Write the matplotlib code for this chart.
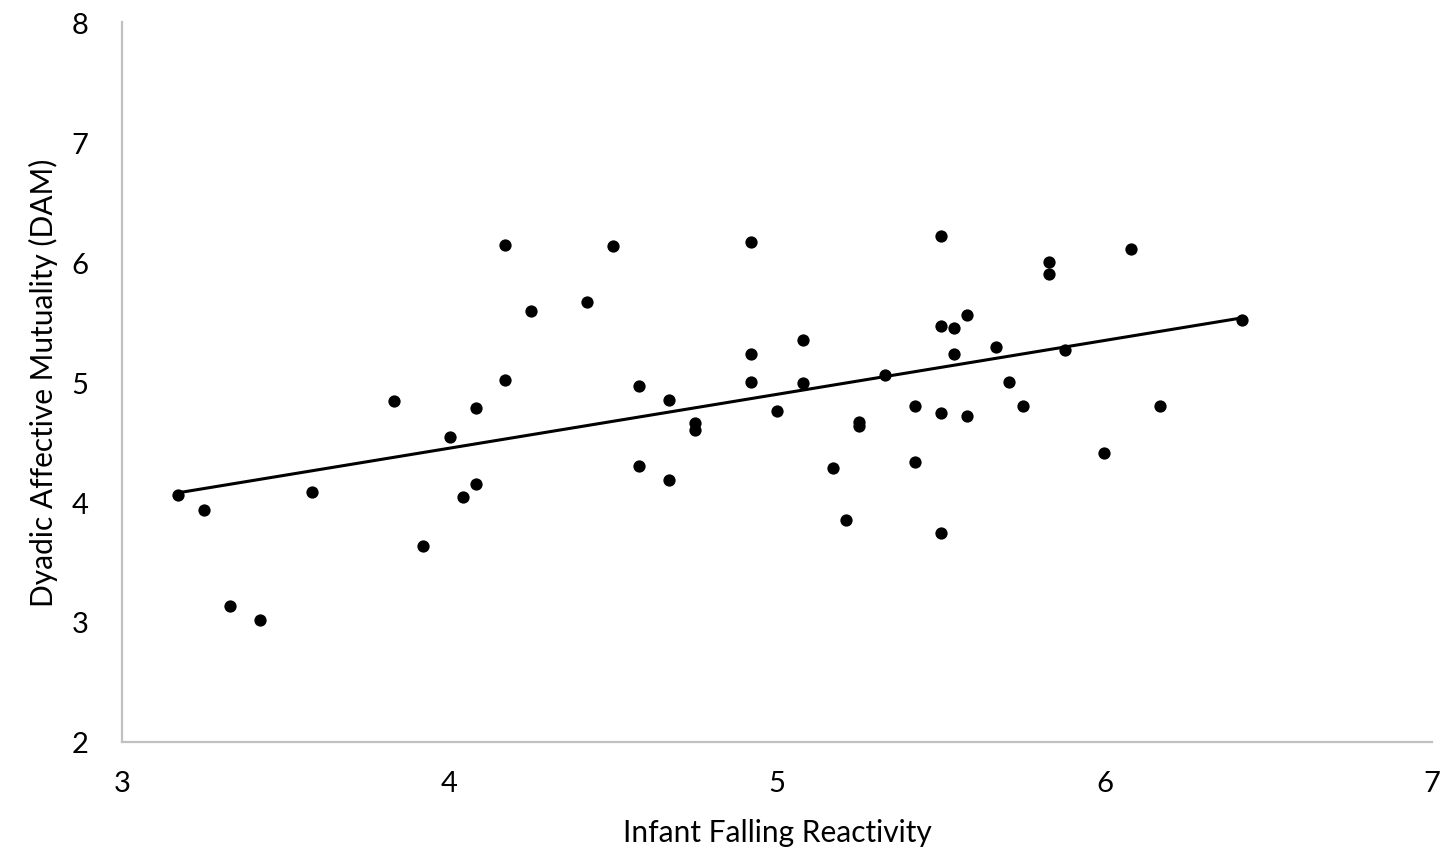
import numpy as np
import matplotlib
matplotlib.use("Agg")
import matplotlib.pyplot as plt

plt.rcParams['font.family'] = ['Lato', 'DejaVu Sans']

# infant falling reactivity (x) and DAM (y)
reactivity = [3.17, 3.25, 3.33, 3.42, 3.58, 3.83, 3.92, 4.00, 4.04, 4.08,
              4.08, 4.17, 4.17, 4.25, 4.42, 4.50, 4.58, 4.58, 4.67, 4.67,
              4.75, 4.75, 4.92, 4.92, 4.92, 5.00, 5.08, 5.08, 5.17, 5.21,
              5.25, 5.25, 5.33, 5.42, 5.42, 5.50, 5.50, 5.50, 5.50, 5.54,
              5.54, 5.58, 5.58, 5.67, 5.71, 5.75, 5.83, 5.83, 5.88, 6.00,
              6.08, 6.17, 6.42]
dam = [4.06, 3.93, 3.13, 3.02, 4.08, 4.84, 3.63, 4.54, 4.04, 4.78,
       4.15, 6.14, 5.02, 5.59, 5.67, 6.13, 4.97, 4.30, 4.85, 4.18,
       4.66, 4.60, 6.17, 5.23, 5.00, 4.76, 5.35, 4.99, 4.28, 3.85,
       4.67, 4.63, 5.06, 4.80, 4.33, 6.22, 5.47, 4.74, 3.74, 5.45,
       5.23, 5.56, 4.72, 5.29, 5.00, 4.80, 6.00, 5.90, 5.27, 4.41,
       6.11, 4.80, 5.52]

x_ticks = [3, 4, 5, 6, 7]
y_ticks = [2, 3, 4, 5, 6, 7, 8]

fig = plt.figure(figsize=(14.53, 8.54), dpi=100)
ax = fig.add_axes([0.084, 0.13, 0.9015, 0.843])

ax.scatter(reactivity, dam, s=78, color='black', zorder=3, linewidths=0)

# linear trendline
slope, intercept = np.polyfit(reactivity, dam, 1)
xs = np.array([min(reactivity), max(reactivity)])
ax.plot(xs, slope * xs + intercept, color='black', lw=2.2, zorder=2)

ax.set_xlim(3, 7)
ax.set_ylim(2, 8)
ax.set_xticks(x_ticks)
ax.set_yticks(y_ticks)
ax.tick_params(length=0, labelsize=21)
ax.tick_params(axis='x', pad=20)
ax.tick_params(axis='y', pad=24)

for s in ['top', 'right']:
    ax.spines[s].set_visible(False)
for s in ['left', 'bottom']:
    ax.spines[s].set_color('#c0c0c0')
    ax.spines[s].set_linewidth(1.6)

ax.set_xlabel('Infant Falling Reactivity', fontsize=21.5, labelpad=16)
ax.set_ylabel('Dyadic Affective Mutuality (DAM)', fontsize=21.5, labelpad=10)

fig.savefig('out.png', dpi=100)
